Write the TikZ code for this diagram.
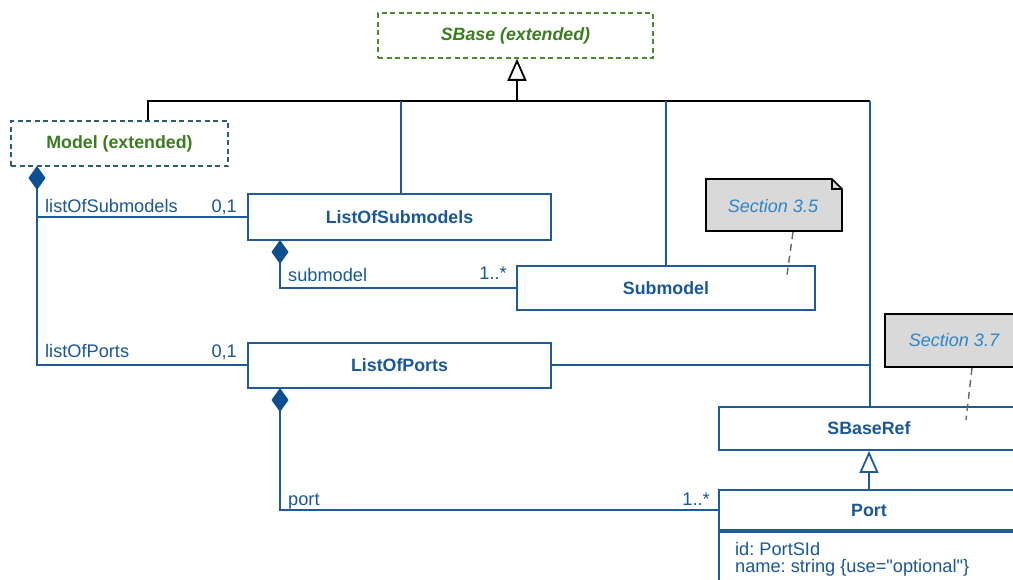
\documentclass[tikz,border=0pt]{standalone}
\usepackage{fontspec}
\setmainfont{Liberation Sans}[Ligatures=TeXOff]
\usetikzlibrary{arrows.meta,calc}
\definecolor{ublue}{HTML}{1F5A9A}
\definecolor{utext}{HTML}{1A5796}
\definecolor{dfill}{HTML}{0D4F91}
\definecolor{ugreen}{HTML}{3A7D1E}
\definecolor{gborder}{HTML}{4A8A2A}
\definecolor{tborder}{HTML}{2E5E6E}
\definecolor{notetext}{HTML}{2A86C8}
\definecolor{notefill}{HTML}{D9D9D9}
\frenchspacing
\tikzset{
  cls/.style={draw=ublue, line width=1.8pt, fill=white, rectangle, inner sep=0pt,
    text=utext, font=\fontsize{17.8}{20}\selectfont\bfseries},
  ext/.style={draw=#1, dashed, dash pattern=on 5pt off 3.5pt, line width=1.5pt, rectangle, inner sep=0pt,
    text=ugreen, font=\fontsize{17.8}{20}\selectfont\bfseries},
  conn/.style={draw=ublue, line width=1.8pt},
  bconn/.style={draw=black, line width=1.8pt},
  comp/.style={conn, {Diamond[length=24pt, width=17pt, fill=dfill, color=dfill]}-},
  gen/.style={-{Triangle[open, length=22pt, width=19pt, fill=white]}},
  lbl/.style={text=utext, font=\fontsize{18.2}{20}\selectfont, inner sep=0pt},
  notelink/.style={draw=gray!80!black, dashed, dash pattern=on 7pt off 5pt, line width=1.4pt},
  notetxt/.style={text=notetext, font=\fontsize{18}{20}\selectfont\itshape, inner sep=0pt}
}
\newcommand{\notebox}[5]{% name, x1, y1, x2, y2
  \fill[notefill] (#2,#3) -- (#4-10,#3) -- (#4,#3+10) -- (#4,#5) -- (#2,#5) -- cycle;
  \draw[black, line width=1.6pt] (#2,#3) -- (#4-10,#3) -- (#4,#3+10) -- (#4,#5) -- (#2,#5) -- cycle;
  \draw[black, line width=1.2pt] (#4-10,#3) -- (#4-10,#3+10) -- (#4,#3+10);
  \coordinate (#1) at ({(#2+#4)/2},{(#3+#5)/2});
}
\begin{document}
\begin{tikzpicture}[x=1pt, y=-1pt]
\useasboundingbox (0,0) rectangle (1013,579);
\fill[white] (0,0) rectangle (1013,579);

% classes
\node[ext=gborder, minimum width=275pt, minimum height=45pt, font=\fontsize{17.8}{20}\selectfont\bfseries\itshape] (sbase) at (515.5,35.5) {SBase (extended)};
\node[ext=tborder, minimum width=217pt, minimum height=45pt] (model) at (119.5,143.5) {Model (extended)};
\node[cls, minimum width=303pt, minimum height=46pt] (los) at (399.5,217) {ListOfSubmodels};
\node[cls, minimum width=298pt, minimum height=44pt] (sub) at (666,288) {Submodel};
\node[cls, minimum width=303pt, minimum height=45pt] (lop) at (399.5,365.5) {ListOfPorts};
\node[cls, minimum width=300pt, minimum height=43pt] (sref) at (869,428.5) {SBaseRef};
\node[cls, minimum width=300pt, minimum height=40pt] (port) at (869,510) {Port};
\node[cls, anchor=north, minimum width=300pt, minimum height=70pt] (portattr) at (port.south) {};
\node[lbl, anchor=base west] (pa1) at (735,555) {id: PortSId};
\node[lbl, anchor=base west] (pa2) at (735,572) {name: string \{use="optional"\}};

% notes
\notebox{n35}{706}{179}{842}{231}
\node[notetxt] (n35t) at (773,206) {Section 3.5};
\notebox{n37}{885}{314}{1032}{367}
\node[notetxt] (n37t) at (954,340.5) {Section 3.7};
\coordinate (n35a) at (793,232);
\coordinate (n35b) at (787,275);
\coordinate (n37a) at (972,368);
\coordinate (n37b) at (966,420);
\draw[notelink] (n35a) -- (n35b);
\draw[notelink] (n37a) -- (n37b);

% generalization tree
\coordinate (h) at (517,101);
\coordinate (hl) at (148,101);
\coordinate (hr) at (870,101);
\coordinate (v1) at (401,101);
\coordinate (hp) at (870,365);
\draw[bconn, gen] (h) -- (sbase.south -| h);
\draw[bconn] (hl |- model.north) -- (hl) -- (hr);
\draw[conn] (v1) -- (v1 |- los.north);
\draw[conn] (sub.north |- h) -- (sub.north);
\draw[conn] (hr) -- (hr |- sref.north);
\draw[conn] (hp -| lop.east) -- (hp);
\draw[conn, gen] (port.north) -- (sref.south);

% compositions
\coordinate (d1) at (37,166);
\draw[comp] (d1) |- (hp -| lop.west);
\draw[conn] (d1 |- los.west) -- (los.west);
\coordinate (d2) at (280,240);
\draw[comp] (d2) |- (sub.west);
\coordinate (d3) at (280,388);
\draw[comp] (d3) |- (port.west);

% labels
\node[lbl, anchor=base west] (l1) at (45,212) {listOfSubmodels};
\node[lbl, anchor=base east] (m1) at (237,212) {0,1};
\node[lbl, anchor=base west] (l2) at (45,357.5) {listOfPorts};
\node[lbl, anchor=base east] (m2) at (237,357.5) {0,1};
\node[lbl, anchor=base west] (l3) at (288,281) {submodel};
\node[lbl, anchor=base east] (m3) at (507,279) {1..*};
\node[lbl, anchor=base west] (l4) at (288,505) {port};
\node[lbl, anchor=base east] (m4) at (710,505) {1..*};
\end{tikzpicture}
\end{document}
